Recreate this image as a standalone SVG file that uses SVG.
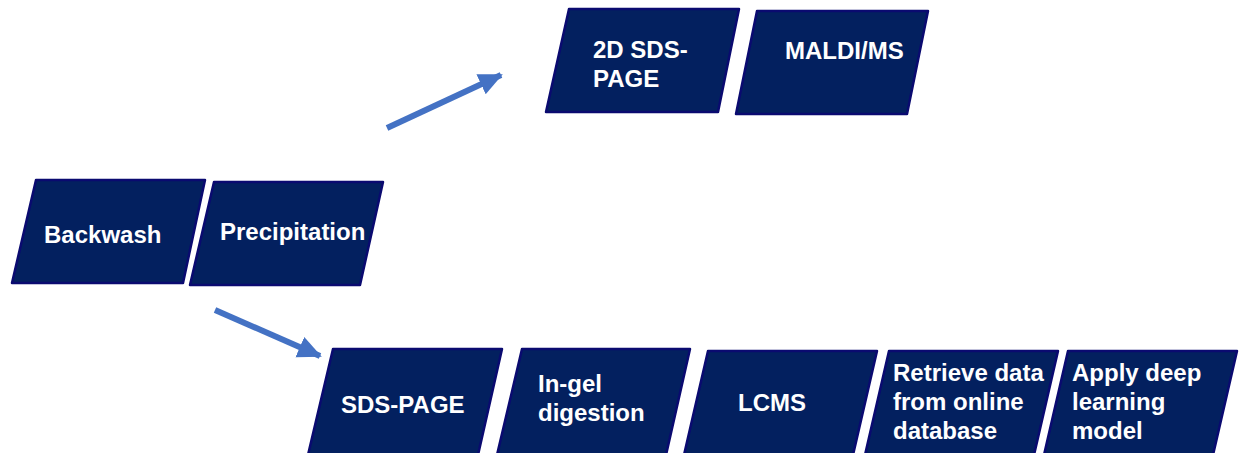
<svg xmlns="http://www.w3.org/2000/svg" width="1240" height="453" viewBox="0 0 1240 453">
<style>
.box{fill:#03205F;stroke:#0A0A70;stroke-width:2.5;stroke-linejoin:round}
.t{font-family:"Liberation Sans",Arial,sans-serif;font-weight:bold;font-size:24px;fill:#FFFFFF}
.arr{stroke:#4472C4;stroke-width:6;fill:none}
</style>
<defs>
<marker id="ah" markerUnits="userSpaceOnUse" markerWidth="24" markerHeight="24" viewBox="0 0 24 24" refX="22" refY="12" orient="auto">
<path d="M0,1 L24,12 L0,23 Z" fill="#4472C4"/>
</marker>
</defs>
<rect width="1240" height="453" fill="#FFFFFF"/>
<g id="connectors">
<line class="arr" x1="387" y1="128" x2="501" y2="75" marker-end="url(#ah)"/>
<line class="arr" x1="215" y1="310" x2="320" y2="356" marker-end="url(#ah)"/>
</g>
<g id="backwash">
<polygon class="box" points="36,180 205,180 183,283 12,283"/>
<text class="t" x="44" y="243">Backwash</text>
</g>
<g id="precipitation">
<polygon class="box" points="214,182 383,182 360,285 190,285"/>
<text class="t" x="220" y="240">Precipitation</text>
</g>
<g id="sds2d">
<polygon class="box" points="569,9 739,9 718,112 546,112"/>
<text class="t" x="593" y="58">2D SDS-</text>
<text class="t" x="593" y="87">PAGE</text>
</g>
<g id="maldi">
<polygon class="box" points="757,11 928,11 907,114 736,114"/>
<text class="t" x="785" y="59">MALDI/MS</text>
</g>
<g id="sdspage">
<polygon class="box" points="333,349 502,349 478,455 308,455"/>
<text class="t" x="341" y="413">SDS-PAGE</text>
</g>
<g id="ingel">
<polygon class="box" points="522,349 690,349 666,455 497,455"/>
<text class="t" x="538" y="392">In-gel</text>
<text class="t" x="538" y="421">digestion</text>
</g>
<g id="lcms">
<polygon class="box" points="708,351 877,351 853,455 684,455"/>
<text class="t" x="738" y="411">LCMS</text>
</g>
<g id="retrieve">
<polygon class="box" points="889,351 1058,351 1034,455 865,455"/>
<text class="t" x="893" y="381">Retrieve data</text>
<text class="t" x="893" y="410">from online</text>
<text class="t" x="893" y="439">database</text>
</g>
<g id="apply">
<polygon class="box" points="1068,351 1237,351 1213,455 1044,455"/>
<text class="t" x="1072" y="381">Apply deep</text>
<text class="t" x="1072" y="410">learning</text>
<text class="t" x="1072" y="439">model</text>
</g>
</svg>
